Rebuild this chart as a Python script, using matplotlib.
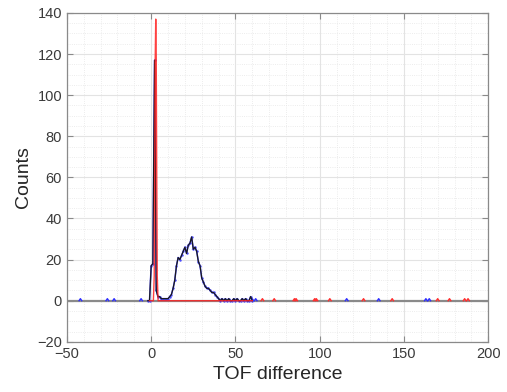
import numpy as np
import matplotlib.pyplot as plt

plt.rcParams['font.family'] = ['Liberation Sans', 'DejaVu Sans']

# histogram of TOF difference, bins of width 1 (only the busy region listed)
core_x = list(range(-2, 61))
core_counts = [0, 0, 17, 18, 117, 5, 2, 2, 1, 1, 1, 1, 1, 2, 3, 6, 10, 17, 21, 20,
               22, 24, 26, 23, 27, 28, 31, 25, 26, 24, 19, 17, 11, 9, 7, 6, 6, 5,
               4, 4, 3, 2, 1, 0, 1, 0, 1, 0, 1, 0, 0, 1, 0, 1, 0, 0, 1, 0, 1, 0,
               0, 2, 0]

# isolated single counts far from the peaks
blue_single = [-42, -26, -22, -6, 60, 62, 116, 135, 163, 165]
red_single = [66, 73, 85, 86, 97, 98, 106, 126, 143, 170, 177, 186, 188]

# gaussian fit of the prompt peak
fit_x = [-1, 1.3, 1.8, 2.1, 2.4, 2.7, 3.0, 3.3, 3.6, 4.1, 60]
fit_y = [0, 0, 12, 60, 118, 137, 118, 60, 12, 0, 0]

def spikes(positions):
    xs, ys = [], []
    for p in positions:
        xs += [p - 0.8, p, p + 0.8, np.nan]
        ys += [0, 1, 0, np.nan]
    return xs, ys

fig = plt.figure(figsize=(5.07, 3.92), dpi=100)
ax = fig.add_axes([0.132, 0.128, 0.831, 0.839])

ax.axhline(0, color='#8a8a8a', lw=1.6, zorder=1)

bx, by = spikes(blue_single)
ax.plot(bx, by, color='#3030ff', lw=1.0, zorder=2)
rx, ry = spikes(red_single)
ax.plot(rx, ry, color='#ff3030', lw=1.0, zorder=2)

ax.plot(core_x, core_counts, color='#4a4aff', lw=1.1, marker='.', ms=1.5, zorder=2)
ax.plot(core_x, core_counts, color='#1a1a1a', lw=0.9, zorder=3)
ax.plot(fit_x, fit_y, color='#ff2020', lw=1.0, alpha=0.85, zorder=4)

ax.set_xlim(-50, 200)
ax.set_ylim(-20, 140)
ax.set_xticks(np.arange(-50, 201, 50))
ax.set_yticks(np.arange(-20, 141, 20))
ax.set_xticks(np.arange(-50, 201, 10), minor=True)
ax.set_yticks(np.arange(-20, 141, 5), minor=True)
ax.grid(which='major', color='#e3e3e3', lw=0.8)
ax.grid(which='minor', color='#e6e6e6', lw=0.6, ls=':')
ax.set_axisbelow(True)

ax.tick_params(which='both', direction='in', top=True, right=True,
               colors='#8a8a8a', labelcolor='#3a3a3a', labelsize=10.5)
ax.tick_params(which='major', length=4)
ax.tick_params(which='minor', length=0)
for s in ax.spines.values():
    s.set_color('#8a8a8a')
    s.set_linewidth(0.9)

ax.set_xlabel('TOF difference', fontsize=14, color='#262626', labelpad=4)
ax.set_ylabel('Counts', fontsize=14, color='#262626', labelpad=4)

fig.savefig('out.png', dpi=100)
